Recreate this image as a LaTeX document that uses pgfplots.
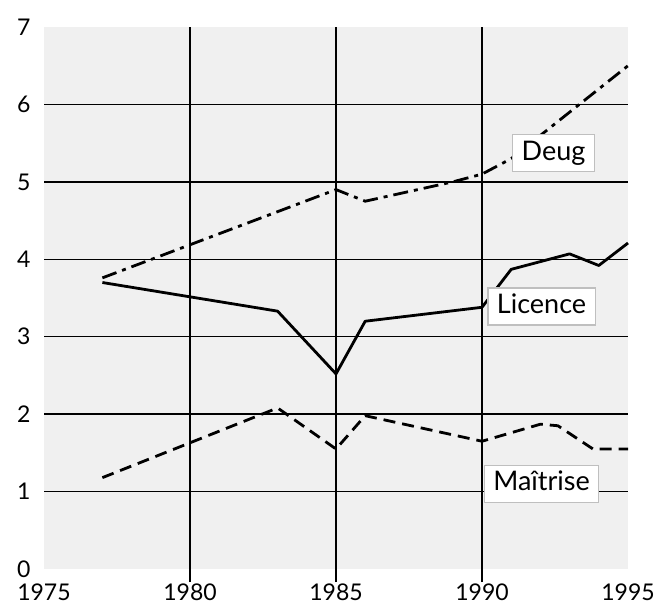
\documentclass[border=0pt]{standalone}
\usepackage{pgfplots}
\pgfplotsset{compat=1.18}
\usepackage{fontspec}
\setmainfont{Lato}
\begin{document}
\begin{tikzpicture}[x=1pt,y=1pt]
\useasboundingbox (0,0) rectangle (656,608);
\begin{axis}[
  at={(44pt,39pt)}, anchor=south west,
  scale only axis, width=584pt, height=542pt,
  xmin=1975, xmax=1995, ymin=0, ymax=7,
  axis x line*=bottom, axis y line*=left,
  axis line style={draw=none},
  axis background/.style={fill=black!6},
  xtick={1980,1985,1990},
  extra x ticks={1975,1995},
  extra x tick style={grid=none, tick style={draw=none}},
  ytick={1,2,3,4,5,6},
  extra y ticks={0,7},
  extra y tick style={grid=none},
  ytick style={draw=none},
  grid=major, major grid style={black, line width=1.4pt},
  tick align=outside, major tick length=13pt,
  xtick style={black, line width=1.4pt},
  ticklabel style={font=\fontsize{23}{27}\selectfont},
  /pgf/number format/assume math mode=true,
  /pgf/number format/1000 sep={},
  yticklabel style={xshift=3pt},
  xticklabel style={inner sep=1pt, yshift=-1pt},
  clip=false,
]
\addplot[black, line width=2.8pt, line join=round, dash pattern=on 15pt off 6pt on 4pt off 6pt]
  coordinates {(1977,3.76)(1985,4.9)(1986,4.75)(1989,5.0)(1990,5.1)(1991,5.3)(1995,6.5)};
\addplot[black, line width=2.8pt, line join=round]
  coordinates {(1977,3.7)(1983,3.33)(1985,2.52)(1986,3.2)(1990,3.38)(1991,3.87)(1993,4.07)(1994,3.92)(1995,4.21)};
\addplot[black, line width=2.8pt, line join=round, dash pattern=on 12pt off 7pt]
  coordinates {(1977,1.18)(1983,2.08)(1985,1.55)(1986,1.98)(1990,1.65)(1992,1.87)(1992.6,1.85)(1993.8,1.55)(1995,1.55)};
\tikzset{lbl/.style={draw=black!25, line width=1.2pt, fill=white, font=\fontsize{27}{31}\selectfont, inner xsep=9pt, text height=19pt, text depth=5pt, inner ysep=6.5pt}}
\node[lbl] at (axis cs:1992.45,5.37) {Deug};
\node[lbl] at (axis cs:1992.04,3.39) {Licence};
\node[lbl] at (axis cs:1992.04,1.10) {Maîtrise};
\end{axis}
\end{tikzpicture}
\end{document}
